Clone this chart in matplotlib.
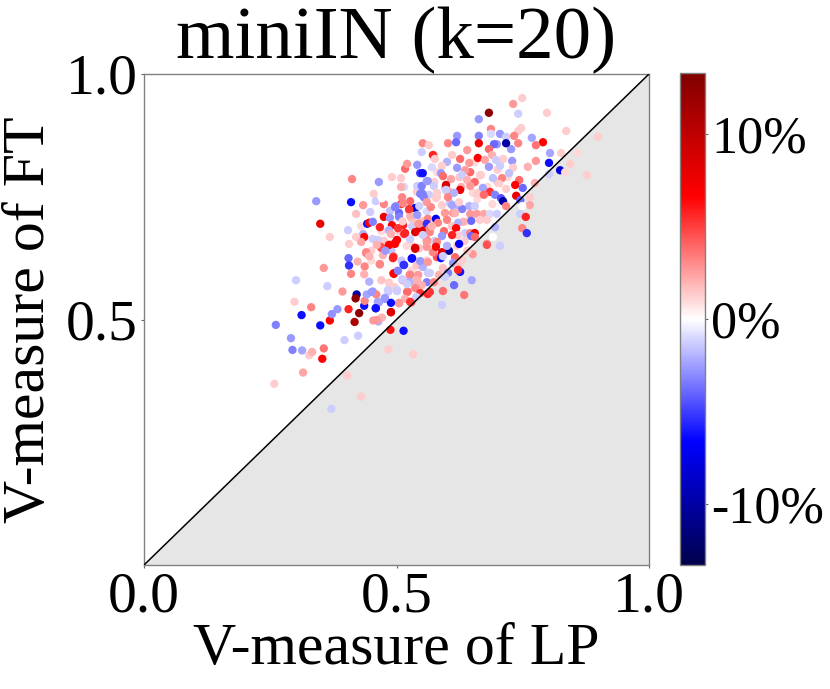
import matplotlib
matplotlib.use("Agg")
import matplotlib.pyplot as plt
from matplotlib.colors import Normalize
from matplotlib.cm import ScalarMappable

plt.rcParams['font.family'] = ['Liberation Serif', 'DejaVu Serif']

lp_pale = [
 .665,.651,.661,.580,.606,.620,.590,.596,.612,.575,
 .540,.560,.530,.515,.580,.505,.490,.475,.530,.545,
 .620,.640,.660,.700,.690,.610,.570,.550,.530,.470,
 .510,.500,.485,.450,.540,.575,.600,.520,.655,.625,
 .450,.470,.430,.560,.610,.580,.635,.680,.700,.720,
]
ft_pale = [
 .794,.758,.758,.749,.737,.733,.733,.768,.717,.780,
 .760,.720,.705,.770,.800,.680,.640,.660,.600,.645,
 .650,.700,.745,.780,.735,.835,.810,.700,.650,.580,
 .620,.600,.575,.620,.610,.660,.760,.650,.820,.790,
 .640,.680,.690,.620,.690,.575,.660,.770,.805,.790,
]
imp_pale = [
 1,1,1,1.3,-1.5,-2,1.3,-1.5,2.6,1.3,
 1.3,-1,1.5,-1,1,1.3,-1.5,1.5,1,1.5,
 1.3,1,1,1.5,1,1.3,-1,1.5,1.3,1.5,
 -1.5,1,1.3,1,1.5,-1.2,1.3,1,1,1.5,
 1.3,1,1,1.2,1.5,1,1.3,1,1.3,1,
]
lp_score = [
 .258,.261,.312,.301,.298,.331,.356,.363,.291,.294,
 .313,.327,.333,.356,.353,.315,.349,.368,.372,.383,
 .405,.397,.424,.371,.402,.430,.417,.426,.421,.419,
 .393,.488,.514,.484,.533,.489,.459,.464,.454,.471,
 .436,.437,.441,.453,.460,.477,.465,.505,.529,.405,
 .406,.410,.423,.437,.436,.446,.440,.467,.494,.514,
 .530,.537,.470,.494,.526,.512,.527,.501,.522,.496,
 .484,.540,.341,.410,.349,.412,.368,.404,.420,.434,
 .465,.455,.448,.434,.436,.420,.442,.446,.453,.475,
 .467,.475,.459,.471,.491,.509,.509,.511,.517,.521,
 .541,.547,.541,.547,.509,.527,.537,.525,.499,.487,
 .505,.487,.527,.541,.503,.491,.513,.503,.485,.489,
 .515,.531,.543,.537,.543,.453,.469,.430,.406,.487,
 .497,.501,.527,.463,.683,.663,.731,.749,.741,.798,
 .836,.899,.687,.747,.741,.620,.663,.705,.717,.687,
 .733,.768,.790,.776,.741,.727,.717,.699,.693,.663,
 .602,.618,.552,.564,.550,.574,.640,.683,.689,.661,
 .626,.572,.576,.804,.826,.859,.802,.824,.844,.877,
 .834,.802,.776,.760,.729,.711,.697,.705,.683,.644,
 .600,.620,.675,.731,.723,.646,.636,.590,.552,.588,
 .630,.592,.667,.608,.562,.640,.709,.691,.743,.655,
 .646,.598,.628,.550,.574,.750,.735,.774,.703,.671,
 .626,.685,.717,.659,.701,.602,.580,.614,.598,.564,
 .552,.673,.737,.695,.707,.711,.745,.764,.764,.717,
 .749,.745,.756,.749,.758,.695,.691,.679,.644,.655,
 .630,.610,.624,.578,.602,.568,.616,.596,.646,.659,
 .673,.685,.699,.679,.665,.648,.632,.622,.578,.562,
 .600,.582,.594,.618,.636,.646,.655,.648,.622,.610,
 .590,.624,.566,.550,.560,.580,.440,.446,.467,.473,
 .469,.485,.497,.493,.537,.531,.515,.495,.503,.527,
 .525,.543,.562,.552,.547,.562,.580,.572,.560,.584,
 .560,.541,.550,.537,.521,.511,.521,.501,.483,.547,
 .562,.539,.517,.505,.527,.489,.477,.463,.459,.451,
 .461,.489,.679,.705,.651,.604,.578,.590,.588,.592,
 .616,.630,.612,.622,.592,.626,.622,.602,.649,.596,
 .614,.574,.592,.634,.590,.566,.566,.560,.550,.554,
 .513,.525,.545,.560,.505,.545,.560,.566,.517,.552,
 .560,.501,.497,.461,.478,.512,.570,.600,.640,.655,
]
ft_score = [
 .369,.489,.509,.580,.536,.525,.605,.568,.462,.438,
 .437,.427,.434,.441,.420,.392,.488,.498,.511,.521,
 .521,.458,.467,.318,.386,.343,.495,.513,.551,.543,
 .557,.479,.477,.439,.429,.515,.523,.496,.498,.504,
 .528,.538,.551,.557,.551,.542,.535,.533,.535,.625,
 .610,.593,.618,.608,.592,.577,.637,.612,.594,.611,
 .624,.644,.646,.628,.591,.580,.580,.558,.557,.566,
 .557,.574,.741,.739,.695,.786,.668,.682,.715,.733,
 .780,.756,.719,.674,.668,.668,.695,.697,.699,.709,
 .688,.735,.741,.747,.790,.788,.770,.749,.807,.817,
 .815,.798,.772,.756,.735,.741,.727,.723,.731,.721,
 .717,.707,.711,.713,.701,.692,.692,.686,.682,.674,
 .674,.690,.695,.678,.680,.664,.660,.658,.654,.652,
 .656,.662,.664,.662,.921,.908,.939,.951,.919,.921,
 .884,.872,.888,.890,.884,.874,.874,.878,.872,.878,
 .874,.870,.861,.855,.859,.847,.859,.857,.857,.859,
 .859,.861,.859,.855,.841,.835,.845,.847,.835,.829,
 .827,.835,.827,.839,.839,.839,.819,.804,.817,.794,
 .800,.796,.823,.811,.823,.827,.825,.813,.811,.819,
 .821,.809,.825,.809,.798,.800,.804,.813,.798,.798,
 .794,.792,.794,.786,.782,.784,.788,.788,.784,.780,
 .772,.774,.770,.772,.772,.768,.774,.778,.776,.768,
 .764,.760,.766,.756,.762,.762,.758,.758,.764,.754,
 .754,.754,.752,.754,.747,.741,.743,.749,.733,.731,
 .731,.715,.709,.686,.676,.688,.668,.654,.731,.731,
 .725,.733,.739,.747,.749,.729,.717,.717,.715,.715,
 .715,.715,.715,.703,.703,.701,.699,.697,.705,.705,
 .703,.697,.680,.686,.676,.676,.676,.670,.672,.672,
 .670,.654,.678,.682,.662,.658,.635,.629,.613,.631,
 .648,.652,.654,.625,.646,.625,.611,.593,.599,.591,
 .576,.591,.595,.607,.619,.617,.627,.637,.648,.591,
 .576,.580,.570,.564,.556,.582,.572,.560,.560,.554,
 .552,.546,.542,.534,.536,.534,.544,.536,.523,.556,
 .499,.515,.652,.650,.633,.640,.648,.637,.625,.629,
 .627,.621,.615,.607,.605,.597,.601,.595,.580,.587,
 .570,.576,.558,.550,.530,.595,.556,.782,.758,.749,
 .737,.725,.731,.739,.709,.695,.695,.686,.676,.672,
 .658,.662,.729,.652,.640,.700,.690,.650,.640,.668,
]
improvement = [
 1.3,-3.3,-6.3,-1.3,1.3,3.2,2.6,-1.3,-2.6,-3.3,
 -2.3,1.3,2,3.6,6.6,2.3,-6.3,6.6,-2.9,-2.6,
 5.8,-1.3,-1.3,-1.3,1.3,1.3,11,12.5,-10,12.5,
 2.6,6.2,-6.3,1.3,1.3,7.5,-7,-2,2.6,2,
 -6.3,3.2,-2.3,-2.6,3.2,-2.6,-2.6,2.6,5.2,-3.9,
 -5.3,3.2,2,3.2,2,-2,3.2,2.6,6.6,-5.3,
 -6.3,7.5,5.8,5.2,3.2,2.6,-1.3,-1.3,3.2,1.3,
 -1.3,2,-2.6,-6.3,7.5,3.2,1.3,-1.3,1.6,2.6,
 -2.6,1.3,-1.3,-2,6.6,1.3,-6.3,6.6,-3.3,7.5,
 5.8,3.2,-1.3,0,1.3,1.3,2,3.2,3.9,2.6,
 -2.6,-5.3,-1.3,-3.3,5.2,3.9,-8,4.5,-2.6,-1.6,
 -3.9,-2.6,2,-2.6,0,6.6,5.8,5.2,-2,2,
 5.2,-1.3,2.6,8.5,7.5,-1.3,1.3,2.3,1.3,3.9,
 6.6,-2.6,-1.3,-1.3,12.5,-2.6,2.6,1.3,-1.3,1.3,
 1.3,1.3,3.2,1.3,1.3,-2.6,-3.3,-2.6,-1.3,-1,
 3.2,-2.3,6.6,3.6,3.2,-2.6,-10,-2.6,-3.9,7.5,
 3.2,-3.9,3.2,1.3,-1.3,2,2.6,3.9,2,6.6,
 3.9,5.8,1.3,-2.3,1.3,1,-6.3,-8,1.3,1.3,
 1,-1.3,2.6,2,-2.6,1.3,-1.3,-1.3,-2.6,2.6,
 -2,-2.6,2.3,1.3,-1.6,3.9,2.6,1.3,-6.3,-2.6,
 -1.3,3.9,1.3,2.3,-2.6,2,3.2,-1.6,3.9,3.9,
 2.6,8.5,2,-3.3,-1.3,-3.9,6.6,2,1.3,-2.3,
 7.5,5.2,1.3,1.3,0,2.6,1.3,-2,-1.3,-1.3,
 -3.9,3.9,7.5,-3.3,-4.5,-10,-3.9,1.3,2.3,3.2,
 0,-1.3,5.8,3.2,-5.3,-2,0,2.6,-2,-1.3,
 -3.3,-2.3,1.3,1.3,3.2,3.2,2,2.6,2.6,2.6,
 2.3,-1,-1.3,1.3,1.3,-3.9,2,-2,-7,3.2,
 3.2,3.2,3.9,6.6,-1.3,3.2,7.5,-3.9,1.3,5.8,
 -2.6,-7,3.2,8.5,3.2,3.2,3.2,2,3.2,2,
 4.5,6.6,6.6,5.8,8.5,-6.3,-5.3,6.6,-3.3,3.2,
 -2,2.6,-1.3,-2,-2.6,2.6,4.5,3.2,2.6,2,
 -3.3,2,2,3.2,3.9,-1.3,-1.3,-1.3,-1.3,5.2,
 5.8,-1.3,2,2.6,5.2,-6.3,-2.6,-2.3,-6.3,-2.6,
 2.6,8.5,4.5,-1.3,2.6,-10,6.6,8.5,-6.3,-1.3,
 3.9,1.3,-2.6,1.6,1.6,-6.3,5.8,-3.3,-2.3,-1.3,
 -3.9,3.2,3.9,3.6,-1.3,-1.3,5.2,-2.6,-3.3,-3.3,
 3.2,5.2,-1.3,2.6,-3.3,2.6,-5.3,3.2,5.8,-1.3,
 2.6,6.6,-3.3,2,-2.6,1.3,2,-2,1.3,3.9,
]
x_ticks = [0.0, 0.5, 1.0]
y_ticks = [0.5, 1.0]
cbar_ticks = [-10, 0, 10]
cbar_labels = ['-10%', '0%', '10%']
C_MAX = 13.3

W, H = 830, 689
fig = plt.figure(figsize=(W/100, H/100), dpi=100)
ax = fig.add_axes([144/W, 1-565/H, 505/W, 491/H])
ax.set_xlim(0, 1)
ax.set_ylim(0, 1)
ax.fill_between([0, 1], [0, 0], [0, 1], color='#e6e6e6', lw=0, zorder=1)
norm = Normalize(-C_MAX, C_MAX)
ax.scatter(lp_pale + lp_score, ft_pale + ft_score, c=imp_pale + improvement,
           cmap='seismic', norm=norm, s=36, linewidths=0, zorder=2)
ax.plot([0, 1], [0, 1], color='black', lw=1.1, zorder=3)
ax.set_xticks(x_ticks, ['%.1f' % t for t in x_ticks])
ax.set_yticks(y_ticks, ['%.1f' % t for t in y_ticks])
ax.tick_params(labelsize=41.5, length=2.5, width=0.8, color='#666666', pad=2)
for s in ax.spines.values():
    s.set_color('#808080')
    s.set_linewidth(1.0)
ax.set_xlabel('V-measure of LP', fontsize=43, labelpad=0)
ax.set_ylabel('V-measure of FT', fontsize=43, labelpad=6)
ax.set_title('miniIN (k=20)', fontsize=54, pad=3)

cax = fig.add_axes([680/W, 1-565/H, 25/W, 492/H])
cb = fig.colorbar(ScalarMappable(norm=norm, cmap='seismic'), cax=cax)
cb.set_ticks(cbar_ticks, labels=cbar_labels)
cb.ax.tick_params(labelsize=37.5, length=2.5, width=0.8, color='#666666', pad=2)
cb.outline.set_edgecolor('#808080')
cb.outline.set_linewidth(1.0)

fig.savefig('out.png', dpi=100)
